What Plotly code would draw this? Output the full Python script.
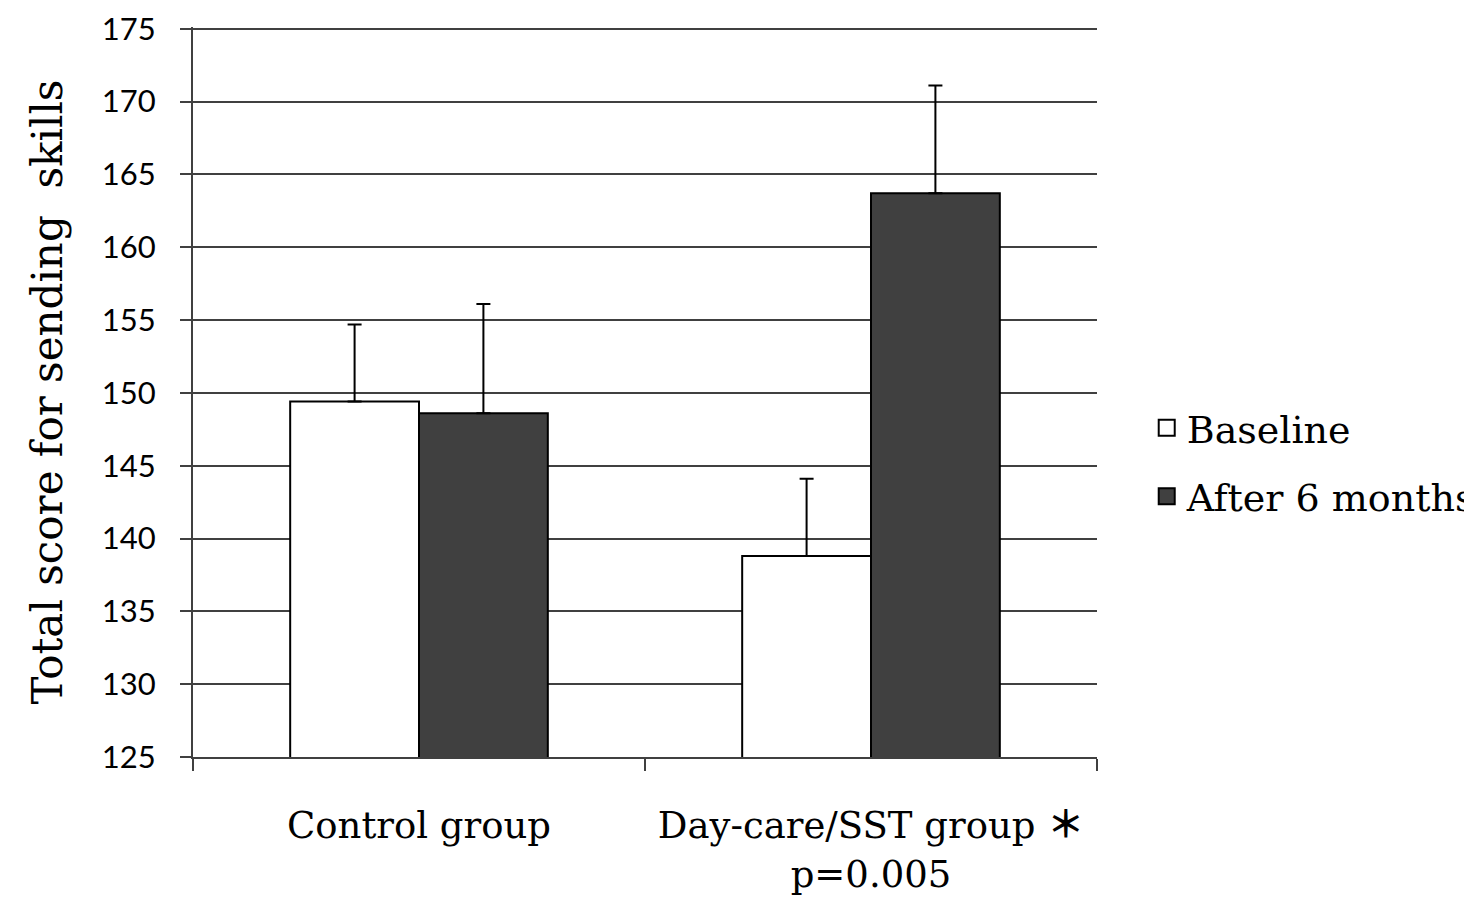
import plotly.graph_objects as go

categories = ["Control group",
              "Day-care/SST group <span style='font-family:Noto Sans CJK JP'><b>\uff0a</b></span><br>p=0.005"]
baseline = [149.4, 138.8]
baseline_sd = [5.3, 5.3]
after6 = [148.6, 163.7]
after6_sd = [7.5, 7.4]
series_names = ["Baseline", "After 6 months"]
colors = ["white", "#404040"]
y_title = "Total score for sending  skills"
y_range = [125, 175.12]

serif = "DejaVu Serif"
sans = "Lato"

fig = go.Figure()
for vals, sds, name, col in [(baseline, baseline_sd, series_names[0], colors[0]),
                             (after6, after6_sd, series_names[1], colors[1])]:
    fig.add_trace(go.Bar(
        x=categories, y=vals, name=name, showlegend=False,
        marker=dict(color=col, line=dict(color="black", width=2)),
        error_y=dict(type="data", array=sds, arrayminus=[0, 0], symmetric=False,
                     color="black", thickness=2, width=7),
    ))
# legend entries with larger square swatches
for name, col in zip(series_names, colors):
    fig.add_trace(go.Scatter(
        x=[None], y=[None], mode="markers", name=name, legendgroup=name,
        marker=dict(symbol="square", size=22, color=col, line=dict(color="black", width=2)),
    ))

fig.update_layout(
    width=1472, height=904,
    margin=dict(l=185, r=383, t=19, b=155, autoexpand=False),
    paper_bgcolor="white", plot_bgcolor="white",
    barmode="group", bargap=0.43, bargroupgap=0,
    font=dict(family=serif, color="black"),
    legend=dict(x=1.055, xanchor="left", y=0.404, yanchor="middle",
                font=dict(family=serif, size=38), itemwidth=30, itemsizing="trace",
                tracegroupgap=16, bgcolor="rgba(0,0,0,0)"),
    showlegend=True,
    annotations=[dict(text=y_title, textangle=-90, xref="paper", yref="paper",
                      x=-0.162, y=0.5, xanchor="center", yanchor="middle",
                      showarrow=False, font=dict(family=serif, size=42, color="black"))],
)
fig.update_xaxes(
    type="category", tickson="boundaries", ticks="outside", ticklen=12,
    tickwidth=2, tickcolor="#404040", showline=True, linecolor="#404040",
    linewidth=2, showgrid=False, tickfont=dict(family=serif, size=37, color="black"),
    ticklabelstandoff=35, automargin=False,
)
fig.update_yaxes(
    range=y_range, dtick=5, tick0=125, ticks="outside", ticklen=11,
    tickwidth=2, tickcolor="#404040", showline=True, linecolor="#404040",
    linewidth=2, showgrid=True, gridcolor="#404040", gridwidth=2,
    tickfont=dict(family=sans, size=31, color="black"),
    ticklabelstandoff=18, ticklabeloverflow="allow",
    zeroline=False, automargin=False,
)

fig.write_html("out.html")
